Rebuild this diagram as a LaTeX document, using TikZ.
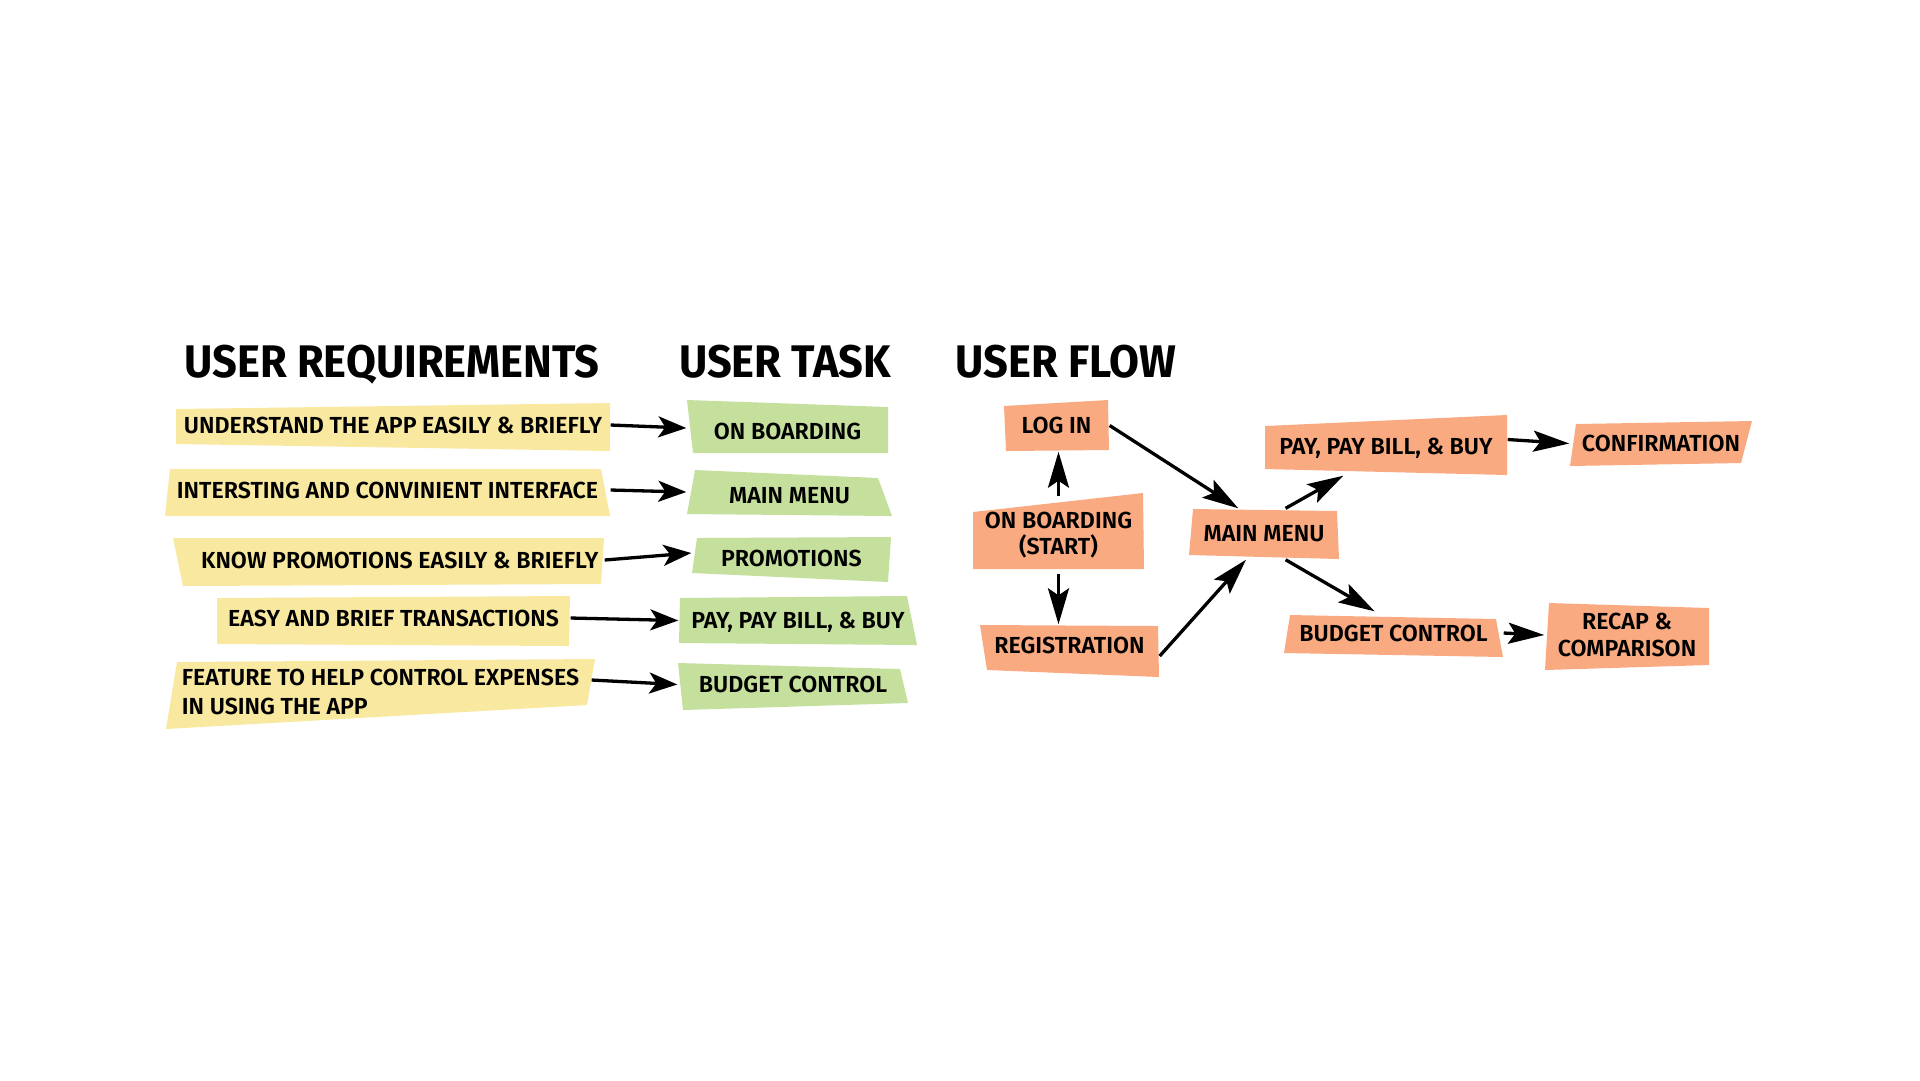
\documentclass[tikz,border=0pt]{standalone}
\usepackage{fontspec}
\setmainfont{Fira Sans}
\newfontfamily\boxfont{Fira Sans SemiBold}
\newfontfamily\titlefont{Fira Sans Bold}[FakeStretch=0.95]
\usetikzlibrary{arrows.meta,calc}
\definecolor{reqyellow}{RGB}{248,232,160}
\definecolor{taskgreen}{RGB}{197,223,157}
\definecolor{floworange}{RGB}{250,170,128}

\begin{document}
\begin{tikzpicture}[x=0.1mm, y=-0.1mm,
    title/.style={font=\titlefont\fontsize{13}{15}\selectfont, inner sep=0pt, anchor=base},
    sheet/.style 2 args={minimum width=#1*0.1mm, minimum height=#2*0.1mm, inner sep=0pt, align=center, font=\boxfont\fontsize{6.6}{7.6}\selectfont},
    link/.style={-{Stealth[length=2.8mm, width=2.1mm, inset=0.7mm]}, line width=0.33mm},
    flowlink/.style={link, -{Stealth[length=3.6mm, width=2.1mm, inset=0.7mm]}},
]
\useasboundingbox[fill=white] (0,0) rectangle (1920,1080);

% column titles
\node[title] (treq) at (392,377) {USER REQUIREMENTS};
\node[title] (ttask) at (785,377) {USER TASK};
\node[title] (tflow) at (1066,377) {USER FLOW};

% user requirements
\fill[reqyellow] (176,409) -- (610,403) -- (610,451) -- (176,444) -- cycle;
\fill[reqyellow] (170,469) -- (601,469) -- (610,516) -- (165,516) -- cycle;
\fill[reqyellow] (173,538) -- (604,538) -- (601,584) -- (183,586) -- cycle;
\fill[reqyellow] (217,598) -- (570,596) -- (569,646) -- (217,644) -- cycle;
\fill[reqyellow] (177,662) -- (595,659) -- (587,705) -- (166,729) -- cycle;
\node[sheet={434}{48}] (req1) at (393,425) {UNDERSTAND THE APP EASILY \& BRIEFLY};
\node[sheet={445}{47}] (req2) at (387.5,490) {INTERSTING AND CONVINIENT INTERFACE};
\node[sheet={431}{48}] (req3) at (388.5,560) {\hspace*{16\pgflinewidth}KNOW PROMOTIONS EASILY \& BRIEFLY};
\node[sheet={353}{50}] (req4) at (393.5,618) {EASY AND BRIEF TRANSACTIONS};
\node[sheet={429}{70}, align=left, font=\boxfont\fontsize{6.6}{8.2}\selectfont] (req5) at (380.5,692) {FEATURE TO HELP CONTROL EXPENSES\\IN USING THE APP};

% user tasks
\fill[taskgreen] (687,400) -- (888,407) -- (888,453) -- (693,453) -- cycle;
\fill[taskgreen] (695,470) -- (878,478) -- (892,516) -- (687,514) -- cycle;
\fill[taskgreen] (697,538) -- (891,537) -- (888,582) -- (692,573) -- cycle;
\fill[taskgreen] (680,598) -- (907,596) -- (917,645) -- (679,643) -- cycle;
\fill[taskgreen] (678,663) -- (900,669) -- (908,703) -- (683,710) -- cycle;
\node[sheet={201}{53}] (task1) at (787.5,431) {ON BOARDING};
\node[sheet={205}{46}] (task2) at (789.5,496) {MAIN MENU};
\node[sheet={199}{45}] (task3) at (791.5,558) {PROMOTIONS};
\node[sheet={238}{49}] (task4) at (798,622.5) {PAY, PAY BILL, \& BUY};
\node[sheet={230}{47}] (task5) at (793,684.5) {BUDGET CONTROL};

% user flow
\fill[floworange] (1004,406) -- (1108,400) -- (1109,450) -- (1006,451) -- cycle;
\fill[floworange] (973,512) -- (1143,493) -- (1144,569) -- (973,569) -- cycle;
\fill[floworange] (980,625) -- (1158,626) -- (1159,677) -- (987,670) -- cycle;
\fill[floworange] (1193,509) -- (1337,511) -- (1339,559) -- (1189,555) -- cycle;
\fill[floworange] (1265,426) -- (1507,415) -- (1507,475) -- (1265,469) -- cycle;
\fill[floworange] (1576,424) -- (1752,421) -- (1741,463) -- (1570,466) -- cycle;
\fill[floworange] (1290,615) -- (1496,619) -- (1503,657) -- (1284,653) -- cycle;
\fill[floworange] (1549,603) -- (1709,608) -- (1709,665) -- (1545,670) -- cycle;
\node[sheet={105}{51}] (login) at (1056.5,425.5) {LOG IN};
\node[sheet={171}{76}] (onb) at (1058.5,535) {ON BOARDING\\(START)};
\node[sheet={179}{40}] (reg) at (1069.5,645) {REGISTRATION};
\node[sheet={150}{50}] (main) at (1264,534) {MAIN MENU};
\node[sheet={242}{54}] (pay) at (1386,448) {PAY, PAY BILL, \& BUY};
\node[sheet={182}{45}] (conf) at (1661,443.5) {CONFIRMATION};
\node[sheet={219}{42}] (bud) at (1393.5,633) {BUDGET CONTROL};
\node[sheet={164}{67}] (recap) at (1627,635) {RECAP \&\\COMPARISON};

% requirement -> task
\draw[link] (req1.east) -- ($(task1.west)+(0,-3)$);
\draw[link] (req2.east) -- ($(task2.west)+(0,-4)$);
\draw[link] (req3.east) -- ($(task3.west)+(0,-5)$);
\draw[link] (req4.east) -- ($(task4.west)+(0,-2)$);
\draw[link] ($(req5.east)+(-4,-12)$) -- (task5.west);

% flow
\draw[flowlink] (onb.north) -- (onb.north |- login.south);
\draw[flowlink] (onb.south) -- (onb.south |- reg.north);
\draw[flowlink] (login.east) -- (main.135);
\draw[flowlink] ($(reg.east)+(0,11)$) -- (main.-125);
\draw[flowlink] (main.50) -- (pay.-147);
\draw[flowlink] (main.-50) -- (bud.131);
\draw[flowlink] (pay.4) -- (conf.west);
\draw[flowlink] (bud.east) -- (recap.west);
\end{tikzpicture}
\end{document}
